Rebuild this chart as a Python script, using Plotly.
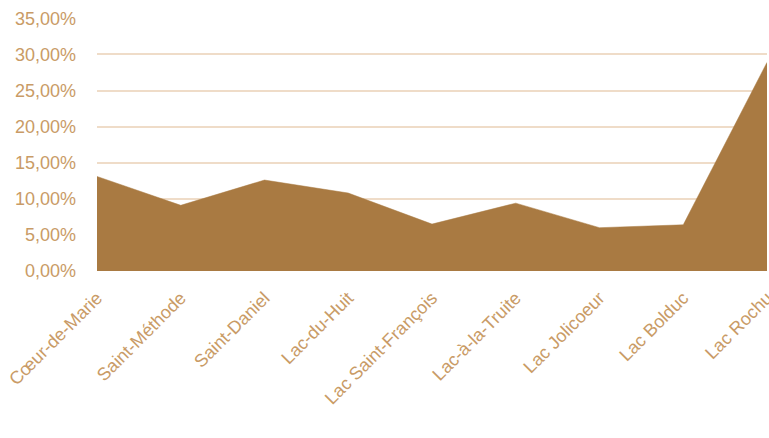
import plotly.graph_objects as go

categories = ["Cœur-de-Marie", "Saint-Méthode", "Saint-Daniel", "Lac-du-Huit",
              "Lac Saint-François", "Lac-à-la-Truite", "Lac Jolicoeur", "Lac Bolduc", "Lac Rochu"]
values = [0.131, 0.091, 0.126, 0.108, 0.065, 0.094, 0.060, 0.064, 0.289]
y_ticks = [0, 0.05, 0.10, 0.15, 0.20, 0.25, 0.30, 0.35]

FILL = "#A97A42"
TEXT = "#C99B66"
GRID = "#EFDCC8"
FONT = "Liberation Sans"

fig = go.Figure()
fig.add_trace(go.Scatter(
    x=categories, y=values, mode="lines", fill="tozeroy",
    fillcolor=FILL, line=dict(color=FILL, width=0.5), hoverinfo="skip"))

fig.update_layout(
    width=769, height=438,
    margin=dict(l=97, r=2, t=18, b=167, autoexpand=False),
    paper_bgcolor="white", plot_bgcolor="white",
    separators=", ",
    showlegend=False,
    font=dict(family=FONT, size=18, color=TEXT),
)
fig.update_xaxes(
    type="category", range=[0, len(categories) - 1], automargin=False,
    tickangle=-45, showgrid=False, zeroline=False, showline=False,
    tickfont=dict(family=FONT, size=18, color=TEXT), ticklabelstandoff=12,
)
fig.update_yaxes(
    range=[0, 0.3505], tickvals=y_ticks, tickformat=".2%", automargin=False,
    showgrid=True, gridcolor=GRID, gridwidth=2, zeroline=False, showline=False,
    tickfont=dict(family=FONT, size=18, color=TEXT), ticklabelstandoff=20,
)

fig.write_html(
    "out.html",
    config={"displayModeBar": False},
    post_script="document.body.style.margin='0';document.body.style.overflow='hidden';",
)
